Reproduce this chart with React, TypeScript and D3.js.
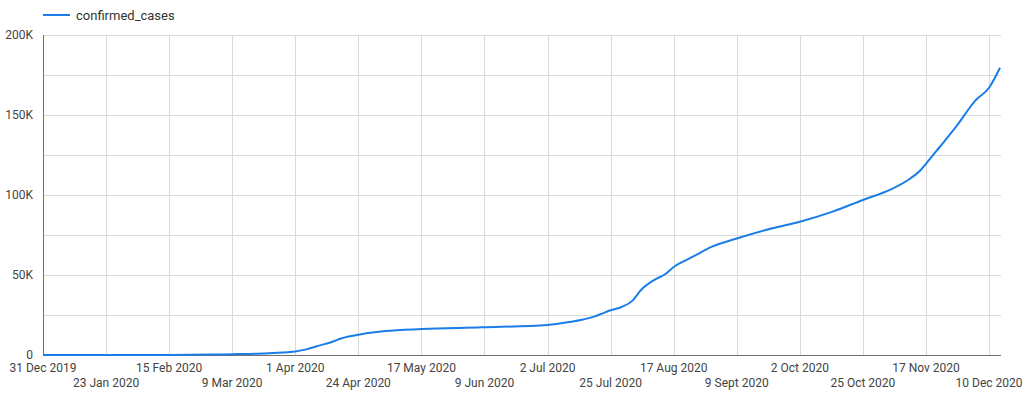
import React from "react";
import * as d3 from "d3";

const dates: string[] = [
  "2019-12-31", "2020-01-23", "2020-02-15", "2020-03-01", "2020-03-09", "2020-03-20",
  "2020-04-01", "2020-04-05", "2020-04-10", "2020-04-14", "2020-04-18", "2020-04-25",
  "2020-05-04", "2020-05-17", "2020-06-08", "2020-07-02", "2020-07-10", "2020-07-15",
  "2020-07-19", "2020-07-22", "2020-07-25", "2020-07-29", "2020-08-02", "2020-08-05",
  "2020-08-10", "2020-08-14", "2020-08-17", "2020-08-20", "2020-08-24", "2020-08-31",
  "2020-09-09", "2020-09-22", "2020-10-02", "2020-10-14", "2020-10-25", "2020-11-04",
  "2020-11-11", "2020-11-15", "2020-11-17", "2020-11-22", "2020-11-28", "2020-12-05",
  "2020-12-10", "2020-12-14",
];

const confirmedCases: number[] = [
  0, 0, 50, 250, 500, 1000,
  2200, 3500, 6000, 8000, 10500, 13000,
  15000, 16200, 17300, 18750, 20600, 22200,
  24000, 26000, 28000, 30000, 34000, 40500,
  47000, 50600, 55000, 58000, 61500, 67700,
  72800, 79200, 83300, 89600, 96900, 103300,
  110000, 115500, 119500, 130000, 142700, 159000,
  167000, 179500,
];

const tickDates: string[] = [
  "2019-12-31", "2020-01-23", "2020-02-15", "2020-03-09", "2020-04-01", "2020-04-24",
  "2020-05-17", "2020-06-09", "2020-07-02", "2020-07-25", "2020-08-17", "2020-09-09",
  "2020-10-02", "2020-10-25", "2020-11-17", "2020-12-10",
];

const tickLabels: string[] = [
  "31 Dec 2019", "23 Jan 2020", "15 Feb 2020", "9 Mar 2020", "1 Apr 2020", "24 Apr 2020",
  "17 May 2020", "9 Jun 2020", "2 Jul 2020", "25 Jul 2020", "17 Aug 2020", "9 Sept 2020",
  "2 Oct 2020", "25 Oct 2020", "17 Nov 2020", "10 Dec 2020",
];

const yTicks: number[] = [0, 25000, 50000, 75000, 100000, 125000, 150000, 175000, 200000];
const yLabelTicks: number[] = [0, 50000, 100000, 150000, 200000];
const yLabels: string[] = ["0", "50K", "100K", "150K", "200K"];

const seriesName = "confirmed_cases";
const domainStart = "2019-12-31";
const domainEnd = "2020-12-14";

const W = 1024;
const H = 398;
const left = 43;
const right = 1000;
const top = 35;
const bottom = 355;
const font = "Roboto, 'Noto Sans', sans-serif";
const blue = "#1a7ee8";

export default function App() {
  const parse = (s: string) => new Date(s + "T00:00:00Z");
  const x = d3.scaleUtc().domain([parse(domainStart), parse(domainEnd)]).range([left, right]);
  const y = d3.scaleLinear().domain([0, 200000]).range([bottom, top]);
  const data = dates.map((d, i) => ({ d: parse(d), v: confirmedCases[i] }));
  const line = d3
    .line<{ d: Date; v: number }>()
    .x((p) => x(p.d))
    .y((p) => y(p.v))
    .curve(d3.curveMonotoneX);

  return (
    <svg
      width={W}
      height={H}
      style={{ position: "absolute", left: 0, top: 0, background: "#fff" }}
      fontFamily={font}
    >
      {/* legend */}
      <line x1={43} x2={70} y1={15} y2={15} stroke={blue} strokeWidth={2} />
      <text x={76} y={19.5} fontSize={13} fill="#333">
        {seriesName}
      </text>

      {/* horizontal grid */}
      {yTicks.map((t) => (
        <line key={"h" + t} x1={left} x2={right + 1} y1={y(t) + 0.5} y2={y(t) + 0.5} stroke="#dadada" strokeWidth={1} />
      ))}
      {/* vertical grid */}
      {tickDates.map((t) => (
        <line key={"v" + t} x1={Math.round(x(parse(t))) + 0.5} x2={Math.round(x(parse(t))) + 0.5} y1={top} y2={bottom} stroke="#dadada" strokeWidth={1} />
      ))}

      {/* axes */}
      <line x1={left + 0.5} x2={left + 0.5} y1={top} y2={bottom + 1} stroke="#707070" strokeWidth={1} />
      <line x1={left} x2={right + 1} y1={bottom + 0.5} y2={bottom + 0.5} stroke="#707070" strokeWidth={1} />

      {/* y labels */}
      {yLabelTicks.map((t, i) => (
        <text key={"yl" + t} x={33} y={y(t) + 4} fontSize={12} fill="#444" textAnchor="end">
          {yLabels[i]}
        </text>
      ))}

      {/* x labels */}
      {tickDates.map((t, i) => (
        <text
          key={"xl" + t}
          x={x(parse(t))}
          y={i % 2 === 0 ? 372 : 387}
          fontSize={12}
          fill="#444"
          textAnchor="middle"
        >
          {tickLabels[i]}
        </text>
      ))}

      {/* series */}
      <path d={line(data) || ""} fill="none" stroke={blue} strokeWidth={2} strokeLinejoin="round" />
    </svg>
  );
}
